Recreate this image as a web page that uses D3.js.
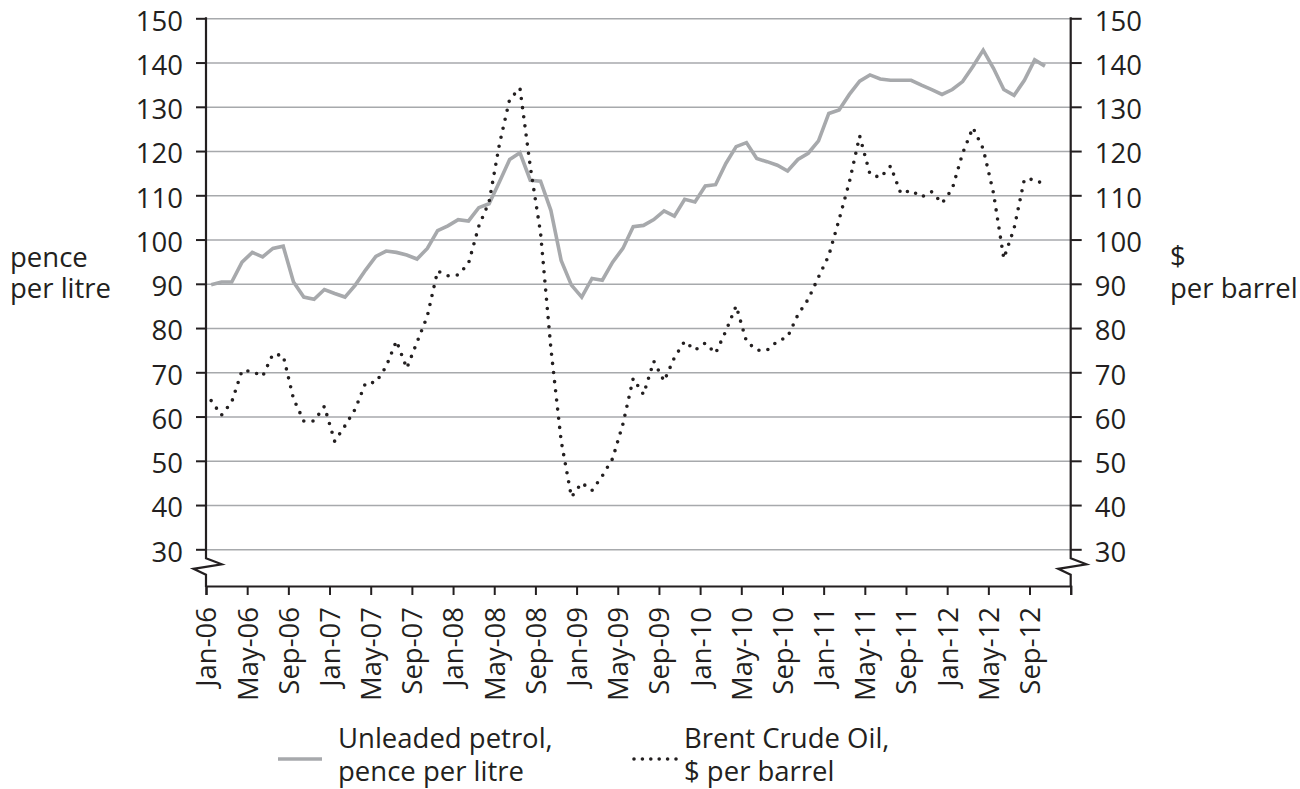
<!DOCTYPE html>
<html>
<head>
<meta charset="utf-8">
<title>Petrol and Brent crude</title>
<script src="https://cdnjs.cloudflare.com/ajax/libs/d3/7.8.5/d3.min.js"></script>
<style>
  body { margin: 0; background: #fff; }
  text { font-family: "Open Sans", sans-serif; fill: #231f20; }
</style>
</head>
<body>
<div id="chart"></div>
<script>
// month categories, Jan-06 .. Dec-12 (data runs to Oct-12)
var monthNames = ["Jan","Feb","Mar","Apr","May","Jun","Jul","Aug","Sep","Oct","Nov","Dec"];
var years = ["06","07","08","09","10","11","12"];

var tickLabels = ["Jan-06","May-06","Sep-06","Jan-07","May-07","Sep-07","Jan-08","May-08","Sep-08",
  "Jan-09","May-09","Sep-09","Jan-10","May-10","Sep-10","Jan-11","May-11","Sep-11",
  "Jan-12","May-12","Sep-12"];

var yTicks = [30, 40, 50, 60, 70, 80, 90, 100, 110, 120, 130, 140, 150];

// unleaded petrol, pence per litre (monthly)
var petrol = [
  89.8, 90.4, 90.4, 94.9, 97.1, 96.1, 98.0, 98.5, 90.4, 87.0, 86.5, 88.7,
  87.8, 87.0, 89.7, 93.1, 96.2, 97.4, 97.1, 96.5, 95.6, 98.0, 102.0, 103.1,
  104.5, 104.2, 107.2, 108.1, 113.0, 118.1, 119.6, 113.4, 113.2, 106.6, 95.3, 89.7,
  87.0, 91.2, 90.8, 94.9, 98.0, 102.9, 103.2, 104.5, 106.5, 105.3, 109.1, 108.5,
  112.1, 112.4, 117.2, 121.0, 121.9, 118.3, 117.6, 116.8, 115.5, 118.1, 119.5, 122.3,
  128.5, 129.3, 132.8, 135.8, 137.2, 136.3, 136.0, 136.0, 136.0, 134.9, 133.9, 132.8,
  133.9, 135.7, 139.1, 142.8, 138.7, 133.9, 132.6, 136.0, 140.6, 139.2
];

// brent crude, $ per barrel (monthly)
var brent = [
  63.6, 60.3, 63.3, 70.4, 70.2, 69.1, 74.1, 73.8, 64.0, 59.0, 59.0, 62.3,
  54.4, 57.9, 61.7, 67.6, 67.7, 71.3, 77.1, 70.9, 76.8, 82.7, 92.9, 91.8,
  92.0, 94.6, 103.0, 108.5, 121.5, 131.7, 134.2, 116.5, 101.5, 75.5, 54.5, 41.8,
  45.0, 43.3, 46.6, 50.5, 58.3, 68.6, 65.0, 72.5, 68.0, 73.3, 77.0, 75.0,
  76.6, 74.3, 79.3, 85.0, 77.0, 75.0, 75.0, 77.0, 78.0, 83.0, 86.5, 91.5,
  96.4, 104.5, 113.0, 123.4, 114.8, 114.0, 116.6, 110.4, 111.1, 109.6, 110.8, 108.2,
  111.5, 119.5, 125.3, 120.5, 110.5, 95.7, 102.5, 113.6, 113.6, 112.3
];

var months = [];
years.forEach(function(y) {
  monthNames.forEach(function(m) { months.push(m + "-" + y); });
});

function drawChart(targetDiv) {
  var width = 1300, height = 789;
  var left = 206, right = 1070.7, top = 18.3, gridBottom = 549.3, axisY = 586;
  var ink = "#231f20", grey = "#a7a9ac";

  var svg = d3.select(targetDiv).append("svg")
              .attr("width", width)
              .attr("height", height);

  // months on a linear index, each point sits in the middle of its month
  var x = d3.scaleLinear().domain([0, months.length]).range([left, right]);
  var yLeft = d3.scaleLinear().domain([30, 150]).range([gridBottom, top]);
  var yRight = d3.scaleLinear().domain([30, 150]).range([gridBottom, top]);

  // gridlines
  svg.append("g")
     .attr("transform", "translate(" + left + ",0)")
     .call(d3.axisLeft(yLeft).tickValues(yTicks).tickSize(-(right - left)).tickFormat(""))
     .call(function(g) {
       g.select(".domain").remove();
       g.selectAll("line").attr("stroke", grey).attr("stroke-width", 1.6);
     });

  // left axis
  svg.append("g")
     .attr("transform", "translate(" + left + ",0)")
     .call(d3.axisLeft(yLeft).tickValues(yTicks).tickSize(10).tickPadding(13))
     .call(function(g) {
       g.select(".domain").remove();
       g.selectAll("line").attr("stroke", ink).attr("stroke-width", 2);
       g.selectAll("text").attr("font-size", 27.5).attr("dy", "0.43em")
        .attr("font-family", "Open Sans").attr("fill", ink);
     });

  // right axis
  svg.append("g")
     .attr("transform", "translate(" + right + ",0)")
     .call(d3.axisRight(yRight).tickValues(yTicks).tickSize(11).tickPadding(13))
     .call(function(g) {
       g.select(".domain").remove();
       g.selectAll("line").attr("stroke", ink).attr("stroke-width", 2);
       g.selectAll("text").attr("font-size", 27.5).attr("dy", "0.43em")
        .attr("font-family", "Open Sans").attr("fill", ink);
     });

  // vertical axis lines with the break marks
  function breakPath(ax) {
    return "M" + ax + "," + (top - 1) + "V558.3L" + (ax + 15.7) + ",564.3L" + (ax - 12.5) + ",568.8L" + ax + ",574.7V" + (axisY + 1);
  }
  [left, right].forEach(function(ax) {
    svg.append("path").attr("d", breakPath(ax))
       .attr("fill", "none").attr("stroke", ink).attr("stroke-width", 2.2);
  });

  // bottom axis, tick every 4 months
  var tickIdx = d3.range(0, months.length + 1, 4);
  svg.append("g")
     .attr("transform", "translate(0," + axisY + ")")
     .call(d3.axisBottom(x).tickValues(tickIdx).tickSize(9)
       .tickFormat(function(i) { return tickLabels[i / 4] || ""; }))
     .call(function(g) {
       g.select(".domain").attr("stroke", ink).attr("stroke-width", 2.2);
       g.selectAll("line").attr("stroke", ink).attr("stroke-width", 2);
       g.selectAll("text")
        .attr("font-size", 27.5).attr("font-family", "Open Sans").attr("fill", ink)
        .attr("transform", "rotate(-90)")
        .attr("text-anchor", "end")
        .attr("x", -21).attr("y", 0).attr("dy", "0.36em");
     });

  var line = function(yScale) {
    return d3.line()
      .x(function(d, i) { return x(i + 0.5); })
      .y(function(d) { return yScale(d); });
  };

  svg.append("path").datum(petrol)
     .attr("d", line(yLeft))
     .attr("fill", "none").attr("stroke", grey).attr("stroke-width", 3.6);

  svg.append("path").datum(brent)
     .attr("d", line(yRight))
     .attr("fill", "none").attr("stroke", ink).attr("stroke-width", 3.6)
     .attr("stroke-linecap", "round").attr("stroke-dasharray", "0 9.2");

  // axis titles, one text per line
  function addLines(xPos, ys, lines) {
    lines.forEach(function(t, i) {
      svg.append("text").attr("x", xPos).attr("y", ys[i]).attr("font-size", 27.5).text(t);
    });
  }
  addLines(10, [267, 298], ["pence", "per litre"]);
  addLines(1170, [266, 298], ["$", "per barrel"]);

  // legend
  var legend = [
    {name: ["Unleaded petrol,", "pence per litre"], x: 278, tx: 338, dotted: false},
    {name: ["Brent Crude Oil,", "$ per barrel"], x: 634, tx: 684, dotted: true}
  ];
  legend.forEach(function(d) {
    svg.append("line")
       .attr("x1", d.x).attr("x2", d.x + 44)
       .attr("y1", 759).attr("y2", 759)
       .attr("stroke", d.dotted ? ink : grey)
       .attr("stroke-width", d.dotted ? 3.6 : 3.6)
       .attr("stroke-linecap", d.dotted ? "round" : "butt")
       .attr("stroke-dasharray", d.dotted ? "0 8.4" : null);
    addLines(d.tx, [748, 781], d.name);
  });
}

drawChart("#chart");
</script>
</body>
</html>
